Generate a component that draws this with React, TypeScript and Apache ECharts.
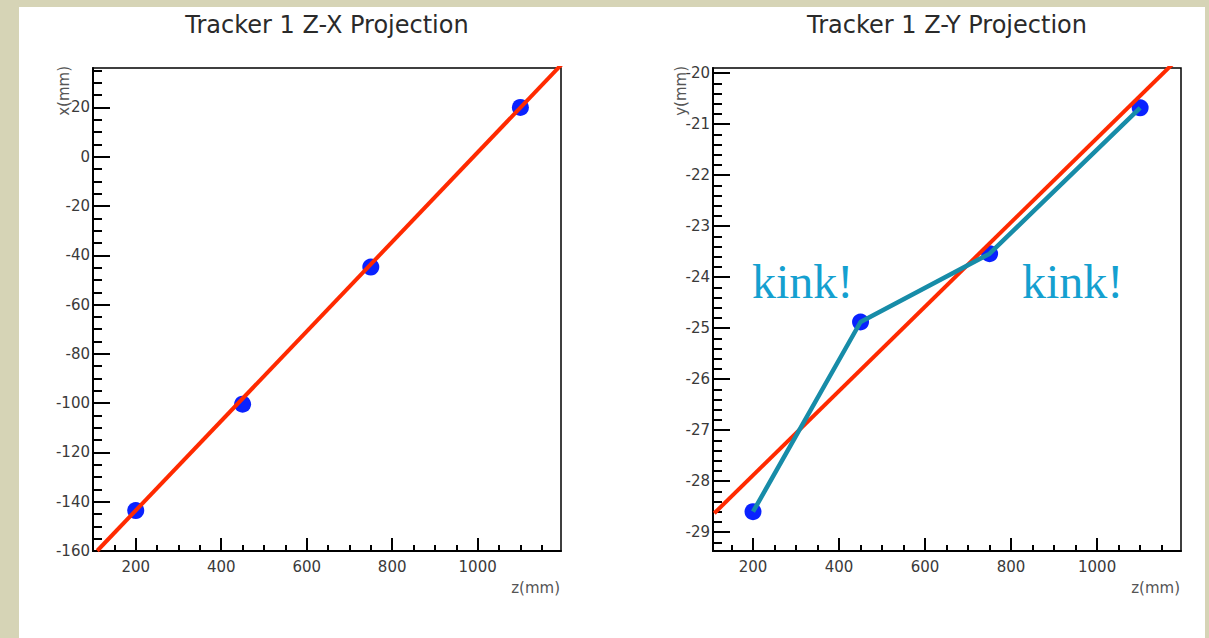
import { useEffect, useRef } from "react";
import * as echarts from "echarts";

// ---- data ----
const zHits = [200, 450, 750, 1100];
const xHits = [-143.6, -100.4, -44.8, 20.0];
const yHits = [-28.6, -24.88, -23.54, -20.68];

const xFitZ = [110, 1200];
const xFitVals = [-159.9, 38.1];
const yFitZ = [110, 1195];
const yFitVals = [-28.63, -19.66];

const zTickLabels = [200, 400, 600, 800, 1000];
const zMinorTicks = [150, 250, 300, 350, 450, 500, 550, 650, 700, 750, 850, 900, 950, 1050, 1100, 1150];
const xTickLabels = [-160, -140, -120, -100, -80, -60, -40, -20, 0, 20];
const yTickLabels = [-29, -28, -27, -26, -25, -24, -23, -22, -21, -20];

const titles = ["Tracker 1 Z-X Projection", "Tracker 1 Z-Y Projection"];
const yTitles = ["x(mm)", "y(mm)"];
const zTitle = "z(mm)";
const kinkText = "kink!";

// minor tick positions between majors
function minorTicks(from: number, to: number, step: number, majors: number[]): number[] {
  const out: number[] = [];
  const n = Math.round((to - from) / step);
  for (let i = 0; i <= n; i++) {
    const v = Math.round((from + i * step) * 1000) / 1000;
    if (!majors.some((m) => Math.abs(m - v) < 1e-6)) out.push(v);
  }
  return out;
}

const xMinorTicks = minorTicks(-155, 35, 5, xTickLabels);
const yMinorTicks = minorTicks(-29.2, -20, 0.2, yTickLabels);

const zip = (a: number[], b: number[]) => a.map((v, i) => [v, b[i]]);

const LABEL_FONT = "DejaVu Sans";
const plain = (v: number) => String(v);

function majorX(gridIndex: number, min: number, max: number) {
  return {
    type: "value",
    gridIndex,
    min,
    max,
    position: "bottom",
    axisLine: { show: true, onZero: false, lineStyle: { color: "#000", width: 2 } },
    axisTick: { show: true, inside: true, length: 13, customValues: zTickLabels, lineStyle: { color: "#000", width: 2 } },
    axisLabel: { show: true, customValues: zTickLabels, formatter: plain, margin: 8, fontSize: 15, fontFamily: LABEL_FONT, color: "#3a3a3a" },
    splitLine: { show: false },
  };
}
function minorX(gridIndex: number, min: number, max: number) {
  return {
    type: "value",
    gridIndex,
    min,
    max,
    position: "bottom",
    axisLine: { show: false, onZero: false },
    axisTick: { show: true, inside: true, length: 6, customValues: zMinorTicks, lineStyle: { color: "#000", width: 2 } },
    axisLabel: { show: false },
    splitLine: { show: false },
  };
}
function majorY(gridIndex: number, min: number, max: number, ticks: number[]) {
  return {
    type: "value",
    gridIndex,
    min,
    max,
    position: "left",
    axisLine: { show: true, onZero: false, lineStyle: { color: "#000", width: 2 } },
    axisTick: { show: true, inside: true, length: 17, customValues: ticks, lineStyle: { color: "#000", width: 2 } },
    axisLabel: { show: true, customValues: ticks, formatter: plain, margin: 3, fontSize: 15, fontFamily: LABEL_FONT, color: "#3a3a3a" },
    splitLine: { show: false },
  };
}
function minorY(gridIndex: number, min: number, max: number, ticks: number[]) {
  return {
    type: "value",
    gridIndex,
    min,
    max,
    position: "left",
    axisLine: { show: false, onZero: false },
    axisTick: { show: true, inside: true, length: 9, customValues: ticks, lineStyle: { color: "#000", width: 2 } },
    axisLabel: { show: false },
    splitLine: { show: false },
  };
}

export default function App() {
  const ref = useRef<HTMLDivElement>(null);

  useEffect(() => {
    if (!ref.current) return;
    const chart = echarts.init(ref.current, undefined, { renderer: "svg" });
    const gridBase = {
      top: 68,
      width: 468,
      height: 483,
      show: true,
      borderColor: "#000",
      borderWidth: 1.5,
      backgroundColor: "transparent",
      containLabel: false,
      outerBoundsMode: "none",
    };
    const hitStyle = { color: "#0a22ff", opacity: 1 };
    const option: any = {
      animation: false,
      backgroundColor: "transparent",
      grid: [
        { ...gridBase, left: 93 },
        { ...gridBase, left: 713 },
      ],
      xAxis: [majorX(0, 100, 1195), minorX(0, 100, 1195), majorX(1, 107, 1195), minorX(1, 107, 1195)],
      yAxis: [
        majorY(0, -160, 36, xTickLabels),
        minorY(0, -160, 36, xMinorTicks),
        majorY(1, -29.37, -19.9, yTickLabels),
        minorY(1, -29.37, -19.9, yMinorTicks),
      ],
      series: [
        {
          type: "scatter",
          xAxisIndex: 0,
          yAxisIndex: 0,
          data: zip(zHits, xHits),
          symbol: "circle",
          symbolSize: 17,
          itemStyle: hitStyle,
          z: 2,
          silent: true,
        },
        {
          type: "line",
          xAxisIndex: 0,
          yAxisIndex: 0,
          data: zip(xFitZ, xFitVals),
          showSymbol: false,
          symbol: "none",
          lineStyle: { color: "#ff2a00", width: 4 },
          z: 3,
          silent: true,
        },
        {
          type: "scatter",
          xAxisIndex: 2,
          yAxisIndex: 2,
          data: zip(zHits, yHits),
          symbol: "circle",
          symbolSize: 17,
          itemStyle: hitStyle,
          z: 2,
          silent: true,
        },
        {
          type: "line",
          xAxisIndex: 2,
          yAxisIndex: 2,
          data: zip(yFitZ, yFitVals),
          showSymbol: false,
          symbol: "none",
          lineStyle: { color: "#ff2a00", width: 4 },
          z: 3,
          silent: true,
        },
        {
          type: "line",
          xAxisIndex: 2,
          yAxisIndex: 2,
          data: zip(zHits, yHits),
          showSymbol: false,
          symbol: "none",
          lineStyle: { color: "#178ca8", width: 4.5 },
          z: 4,
          silent: true,
        },
      ],
      graphic: [
        {
          type: "text",
          x: 327,
          y: 25,
          style: { text: titles[0], font: `24px "${LABEL_FONT}"`, fill: "#2a2a2a", align: "center", verticalAlign: "middle" },
        },
        {
          type: "text",
          x: 947,
          y: 25,
          style: { text: titles[1], font: `24px "${LABEL_FONT}"`, fill: "#2a2a2a", align: "center", verticalAlign: "middle" },
        },
        {
          type: "text",
          x: 64,
          y: 66,
          rotation: Math.PI / 2,
          style: { text: yTitles[0], font: `15px "${LABEL_FONT}"`, fill: "#555", align: "right", verticalAlign: "middle" },
        },
        {
          type: "text",
          x: 681,
          y: 66,
          rotation: Math.PI / 2,
          style: { text: yTitles[1], font: `15px "${LABEL_FONT}"`, fill: "#555", align: "right", verticalAlign: "middle" },
        },
        {
          type: "text",
          x: 560,
          y: 588,
          style: { text: zTitle, font: `15px "${LABEL_FONT}"`, fill: "#555", align: "right", verticalAlign: "middle" },
        },
        {
          type: "text",
          x: 1180,
          y: 588,
          style: { text: zTitle, font: `15px "${LABEL_FONT}"`, fill: "#555", align: "right", verticalAlign: "middle" },
        },
        {
          type: "text",
          x: 752,
          y: 281,
          style: { text: kinkText, font: `48px "Liberation Serif"`, fill: "#14a0d0", align: "left", verticalAlign: "middle" },
        },
        {
          type: "text",
          x: 1022,
          y: 281,
          style: { text: kinkText, font: `48px "Liberation Serif"`, fill: "#14a0d0", align: "left", verticalAlign: "middle" },
        },
      ],
    };
    chart.setOption(option);
    return () => chart.dispose();
  }, []);

  return (
    <div
      style={{
        position: "absolute",
        left: 0,
        top: 0,
        width: 1209,
        height: 638,
        overflow: "hidden",
        background: "#d6d4b6",
      }}
    >
      <div
        style={{
          position: "absolute",
          left: 19,
          top: 7,
          width: 1186,
          height: 640,
          background: "#ffffff",
        }}
      />
      <div ref={ref} style={{ position: "absolute", left: 0, top: 0, width: 1209, height: 638 }} />
    </div>
  );
}
